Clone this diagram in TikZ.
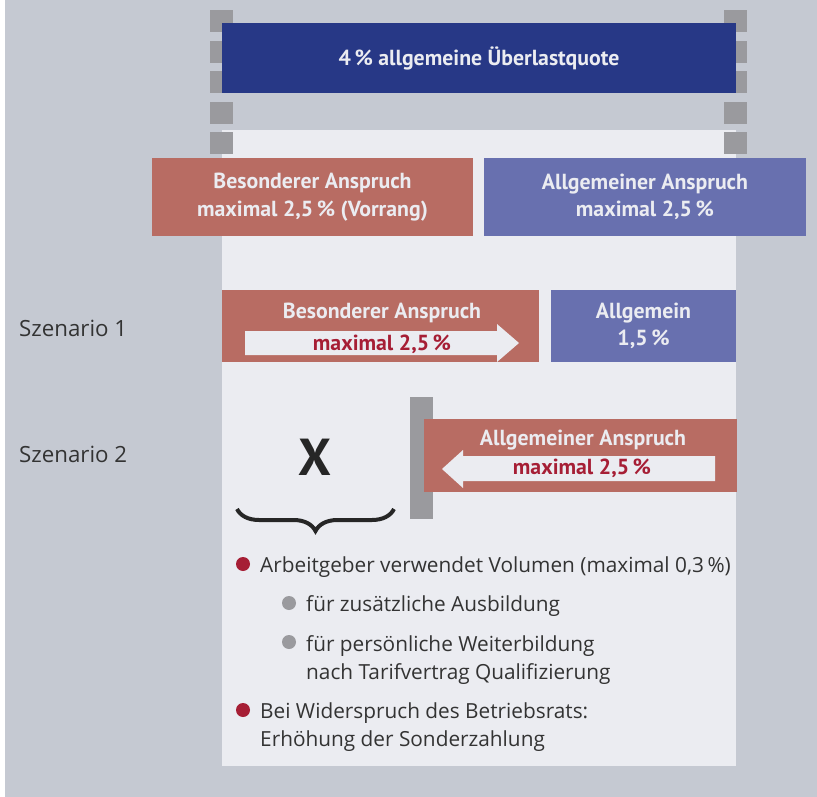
\documentclass[tikz,border=0pt]{standalone}
\usepackage{fontspec}
\setmainfont{Open Sans}
\newfontfamily\boxfont{PT Sans}
\usetikzlibrary{positioning, calc, decorations.pathreplacing}

\definecolor{bggray}{HTML}{C5C9D2}
\definecolor{panel}{HTML}{EBECF1}
\definecolor{pillar}{HTML}{9A9A9E}
\definecolor{navy}{HTML}{273886}
\definecolor{rosebox}{HTML}{B86C63}
\definecolor{violetbox}{HTML}{6870AF}
\definecolor{darkred}{HTML}{A61E35}
\definecolor{bodytext}{HTML}{333333}

\begin{document}
\begin{tikzpicture}[x=1pt, y=-1pt,
    block/.style={rectangle, inner sep=0pt, text=panel, font=\boxfont\bfseries\fontsize{21.8}{27.5}\selectfont, align=center},
    quota/.style={block, fill=navy},
    special/.style={block, fill=rosebox},
    general/.style={block, fill=violetbox},
    peg/.style={rectangle, fill=pillar, minimum width=23pt, minimum height=22pt, inner sep=0pt},
    tag/.style={text=darkred, font=\boxfont\bfseries\fontsize{21.8}{24}\selectfont, inner sep=0pt},
    scen/.style={text=bodytext, font=\fontsize{22.3}{26}\selectfont, anchor=west, inner sep=0pt},
    item/.style={text=bodytext, font=\fontsize{20.8}{26}\selectfont, anchor=base west, inner sep=0pt},
    dot/.style={circle, inner sep=0pt, minimum size=14pt}
]
\useasboundingbox (0,0) rectangle (817,797);

% Background and panel
\fill[white] (0,0) rectangle (817,797);
\fill[bggray] (5,0) rectangle (817,797);
\fill[panel] (222,130) rectangle (736,766);

% Pegs
\foreach \y in {21,52,82,113,143} {
    \node[peg] (pegl\y) at (221,\y) {};
    \node[peg] (pegr\y) at (735,\y) {};
}

% Quota
\node[quota, minimum width=514pt, minimum height=70pt] (quota) at (479,58) {4\,\% allgemeine Überlastquote};

% Claims
\node[special, minimum width=321pt, minimum height=78pt] (spec) at (312.5,197) {Besonderer Anspruch\\maximal 2,5\,\% (Vorrang)};
\node[general, minimum width=322pt, minimum height=78pt] (gen) at (645,197) {Allgemeiner Anspruch\\maximal 2,5\,\%};

% Scenario 1
\node[scen] (sz1) at (19,328) {Szenario 1};
\node[special, minimum width=317pt, minimum height=72pt] (s1spec) at (380.5,326) {};
\node[general, minimum width=185pt, minimum height=72pt] (s1gen) at (643.5,326) {Allgemein\\1,5\,\%};
\fill[panel] (245,331) -- (497,331) -- (497,324) -- (519,343) -- (497,362) -- (497,355) -- (245,355) -- cycle;
\node[block] (s1title) at (382,313) {Besonderer Anspruch};
\node[tag] (s1tag) at (382,344) {maximal 2,5\,\%};

% Scenario 2
\node[scen] (sz2) at (19,454) {Szenario 2};
\node[rectangle, fill=pillar, minimum width=23pt, minimum height=122pt, inner sep=0pt] (wall) at (421.5,458) {};
\node[special, minimum width=313pt, minimum height=73pt] (s2gen) at (580,455) {};
\fill[panel] (715,456) -- (463,456) -- (463,450) -- (442,469) -- (463,488) -- (463,481) -- (715,481) -- cycle;
\node[block] (s2title) at (583,440) {Allgemeiner Anspruch};
\node[tag] (s2tag) at (582,468) {maximal 2,5\,\%};

\node[font=\boxfont\bfseries\fontsize{52}{52}\selectfont, text=black!85, inner sep=0pt] (cross) at (315,457) {X};
\coordinate (bl) at (237,509);
\coordinate (br) at (394,509);
\draw[decorate, decoration={brace, mirror, amplitude=22pt}, line width=4pt, black!85] (bl) -- (br);

% Notes
\node[dot, fill=darkred] (b1) at (243,564) {};
\node[item] (t1) at (260,572) {Arbeitgeber verwendet Volumen (maximal 0,3\,\%)};
\node[dot, fill=pillar] (b2) at (289,603) {};
\node[item] (t2) at (306,611) {für zusätzliche Ausbildung};
\node[dot, fill=pillar] (b3) at (289,642) {};
\node[item] (t3) at (306,651) {für persönliche Weiterbildung};
\node[item] (t3b) at (306,679) {nach Tarifvertrag Qualifizierung};
\node[dot, fill=darkred] (b4) at (243,710) {};
\node[item] (t4) at (260,718) {Bei Widerspruch des Betriebsrats:};
\node[item] (t4b) at (260,746) {Erhöhung der Sonderzahlung};

\end{tikzpicture}
\end{document}
